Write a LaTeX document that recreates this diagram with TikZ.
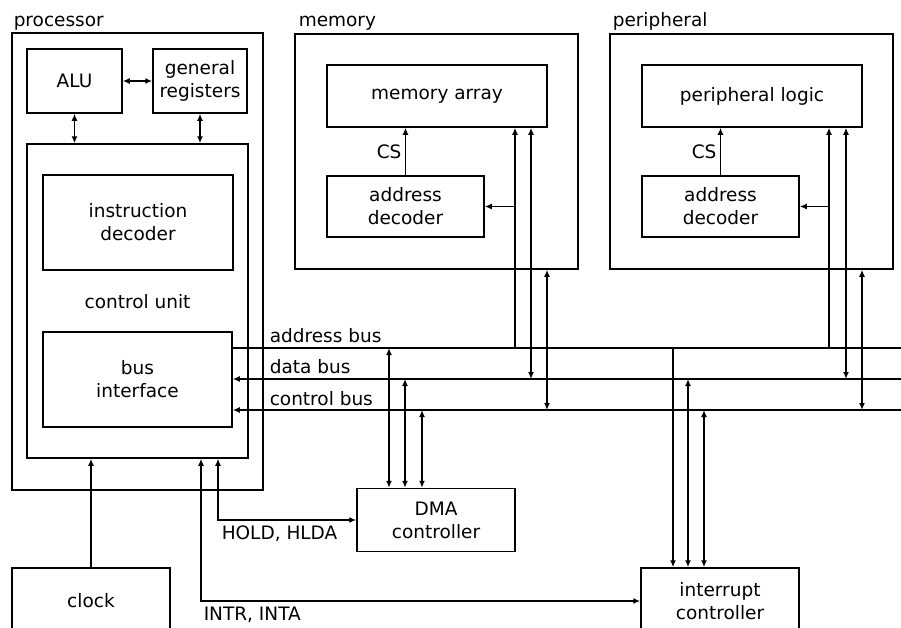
\documentclass[tikz,border=0pt]{standalone}
\usepackage{fontspec}
\setmainfont{DejaVu Sans}
\usetikzlibrary{arrows.meta}
\begin{document}
\begin{tikzpicture}[x=1pt, y=-1pt, line width=1.5pt, font=\fontsize{18.5}{23}\selectfont]
	    \tikzset{>={Latex[length=7pt,width=6pt]}}
	    \tikzset{box/.style={draw, align=center, inner sep=0pt}}
	    \tikzset{lbl/.style={inner sep=0pt, anchor=base west}}
	    \useasboundingbox (0,0) rectangle (901,627);
	    \node[lbl] (proclbl) at (13,26) {processor};
	    \node[box, minimum width=251pt, minimum height=457pt] (proc) at (137.5,261.5) {};
	    \node[box, minimum width=95pt, minimum height=64pt] (alu) at (74.5,81) {ALU};
	    \node[box, minimum width=94pt, minimum height=64pt] (regs) at (200,81) {general\\registers};
	    \node[box, minimum width=221pt, minimum height=314pt] (cu) at (137.5,301) {};
	    \node[box, minimum width=190pt, minimum height=95pt] (idec) at (138,222.5) {instruction\\decoder};
	    \node[] (culbl) at (137.5,302) {control unit};
	    \node[box, minimum width=189pt, minimum height=95pt] (bif) at (137.5,379.5) {bus\\interface};
	    \node[lbl] (memlbl) at (298,26) {memory};
	    \node[box, minimum width=283pt, minimum height=235pt] (mem) at (436.5,151.5) {};
	    \node[box, minimum width=220pt, minimum height=62pt] (marr) at (437,96) {memory array};
	    \node[box, minimum width=157pt, minimum height=61pt] (mdec) at (405.5,206.5) {address\\decoder};
	    \node[lbl] (perlbl) at (612,26) {peripheral};
	    \node[box, minimum width=283pt, minimum height=235pt] (per) at (751.5,151.5) {};
	    \node[box, minimum width=220pt, minimum height=62pt] (plog) at (752,96) {peripheral logic};
	    \node[box, minimum width=157pt, minimum height=61pt] (pdec) at (720.5,206.5) {address\\decoder};
	    \node[box, minimum width=158pt, minimum height=63pt] (dma) at (436,520) {DMA\\controller};
	    \node[box, minimum width=158pt, minimum height=66pt] (intc) at (720,601) {interrupt\\controller};
	    \node[box, minimum width=158pt, minimum height=66pt] (clock) at (91,601) {clock};
	    \draw[<->] (alu.east) -- (regs.west);
	    \draw[<->] (alu.south) -- (alu.south |- cu.north);
	    \draw[<->] (regs.south) -- (regs.south |- cu.north);
	    \draw[->] (mdec.north) -- (mdec.north |- marr.south) node[midway, left] (mcs) {CS};
	    \draw[->] (pdec.north) -- (pdec.north |- plog.south) node[midway, left] (pcs) {CS};
	    \coordinate (aend) at (905,348);
	    \coordinate (dend) at (905,379);
	    \coordinate (cend) at (905,410);
	    \draw (bif.east |- aend) -- (aend);
	    \draw[->] (dend) -- (bif.east |- dend);
	    \draw[->] (cend) -- (bif.east |- cend);
	    \node[lbl] (albl) at (269,342) {address bus};
	    \node[lbl] (dlbl) at (269,373) {data bus};
	    \node[lbl] (clbl) at (269,405) {control bus};
	    \coordinate (mA) at (515,348);
	    \coordinate (mD) at (531,379);
	    \coordinate (mC) at (547,410);
	    \draw[->] (mA) -- (mA |- marr.south);
	    \draw[->] (mA |- mdec.east) -- (mdec.east);
	    \draw[<->] (mD |- marr.south) -- (mD);
	    \draw[<->] (mC |- mem.south) -- (mC);
	    \coordinate (pA) at (829,348);
	    \coordinate (pD) at (846,379);
	    \coordinate (pC) at (862,410);
	    \draw[->] (pA) -- (pA |- plog.south);
	    \draw[->] (pA |- pdec.east) -- (pdec.east);
	    \draw[<->] (pD |- plog.south) -- (pD);
	    \draw[<->] (pC |- per.south) -- (pC);
	    \coordinate (dA) at (389,348);
	    \coordinate (dD) at (405,379);
	    \coordinate (dC) at (422,410);
	    \draw[<->] (dA) -- (dA |- dma.north);
	    \draw[<->] (dD) -- (dD |- dma.north);
	    \draw[<->] (dC) -- (dC |- dma.north);
	    \coordinate (iA) at (673,348);
	    \coordinate (iD) at (688,379);
	    \coordinate (iC) at (704,410);
	    \draw[->] (iA) -- (iA |- intc.north);
	    \draw[<->] (iD) -- (iD |- intc.north);
	    \draw[<->] (iC) -- (iC |- intc.north);
	    \draw[->] (clock.north) -- (clock.north |- cu.south);
	    \coordinate (hold) at (218,520);
	    \draw[<->] (cu.south -| hold) -- (hold) -- (dma.west);
	    \node[lbl] (holdlbl) at (221,539) {HOLD, HLDA};
	    \coordinate (intr) at (201,601);
	    \draw[<->] (cu.south -| intr) -- (intr) -- (intc.west);
	    \node[lbl] (intrlbl) at (203,620) {INTR, INTA};
	    \end{tikzpicture}
\end{document}
